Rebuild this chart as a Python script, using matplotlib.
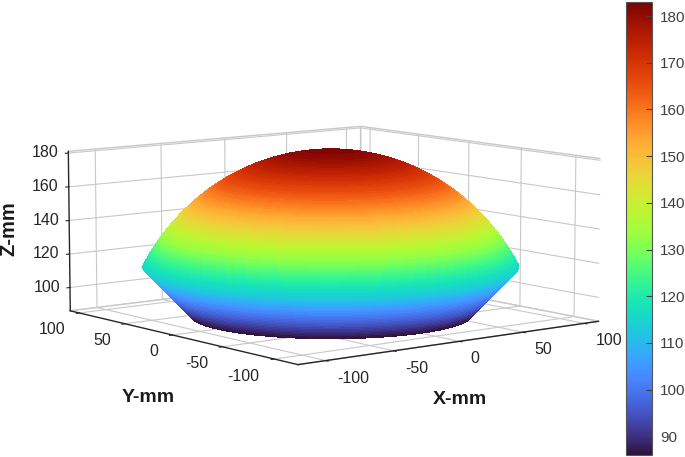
import numpy as np
import matplotlib
matplotlib.use("Agg")
import matplotlib.pyplot as plt
from matplotlib import cm
from matplotlib.colors import Normalize

plt.rcParams["font.family"] = ["Liberation Sans", "DejaVu Sans"]
plt.rcParams["axes.unicode_minus"] = False

# dome profile: radius (mm) at each height (mm)
z_levels = list(range(86, 184))
radii = [87.0, 88.0, 89.0, 90.0, 91.0, 92.0, 93.0, 94.0, 95.0, 96.0,
         97.0, 98.0, 99.0, 100.0, 101.0, 102.0, 103.0, 104.0, 105.0, 106.0,
         107.0, 108.0, 109.0, 110.0, 111.0, 112.0, 113.0, 114.0, 115.0, 116.0,
         115.5, 114.9, 114.3, 113.7, 113.1, 112.5, 111.8, 111.2, 110.5, 109.8,
         109.1, 108.4, 107.7, 107.0, 106.2, 105.5, 104.7, 103.9, 103.1, 102.3,
         101.5, 100.6, 99.7, 98.8, 97.9, 97.0, 96.0, 95.1, 94.1, 93.1,
         92.0, 91.0, 89.9, 88.8, 87.7, 86.5, 85.4, 84.1, 82.9, 81.6,
         80.3, 79.0, 77.6, 76.2, 74.8, 73.3, 71.7, 70.1, 68.5, 66.8,
         65.1, 63.2, 61.4, 59.4, 57.3, 55.2, 53.0, 50.6, 48.1, 45.4,
         42.6, 39.5, 36.1, 32.4, 28.1, 23.0, 16.3, 0.0]

x_ticks = [-100, -50, 0, 50, 100]
y_ticks = [-100, -50, 0, 50, 100]
z_ticks = [100, 120, 140, 160, 180]
cbar_ticks = [90, 100, 110, 120, 130, 140, 150, 160, 170, 180]

# sweep the profile round the vertical axis
theta = np.linspace(0, 2 * np.pi, 361)
rr, tt = np.meshgrid(radii, theta)
zz, _ = np.meshgrid(z_levels, theta)
xx = rr * np.cos(tt)
yy = rr * np.sin(tt)

norm = Normalize(86, 183)
cmap = plt.get_cmap("turbo")

fig = plt.figure(figsize=(6.85, 4.57), dpi=100)
ax = fig.add_axes([0.015, -0.05, 0.92, 1.04], projection="3d")
ax.set_proj_type("persp", focal_length=1.2)
ax.view_init(elev=8.2, azim=-128.3)
ax.patch.set_alpha(0)

ax.plot_surface(xx, yy, zz.astype(float), facecolors=cmap(norm(zz)),
                rstride=1, cstride=1, linewidth=0, antialiased=False, shade=False)

ax.set_xlim(-120, 112, view_margin=0)
ax.set_ylim(-122, 110, view_margin=0)
ax.set_zlim(86, 181, view_margin=0)
ax.set_box_aspect((232, 232, 100), zoom=1.14)

ax.set_xticks(x_ticks)
ax.set_yticks(y_ticks)
ax.set_zticks(z_ticks)
ax.tick_params(axis="both", labelsize=11.5, colors="#262626", pad=0)

for axis in [ax.xaxis, ax.yaxis, ax.zaxis]:
    axis.set_pane_color((1, 1, 1, 1))
    axis.pane.set_edgecolor("#c8c8c8")
    axis.line.set_color("#262626")
    axis.line.set_linewidth(1.0)
    axis._axinfo["grid"].update(color="#c8c8c8", linewidth=0.8)
    axis._axinfo["tick"].update(inward_factor=0.12, outward_factor=0.0)

# nudge tick labels to where the reference has them
for label in ax.get_xticklabels():
    label.set_ha("left")
for label in ax.get_yticklabels():
    label.set_ha("right")
for label in ax.get_zticklabels():
    label.set_va("center")

# axis titles placed by hand, 3d labels land in the wrong spot
fig.text(460 / 685, 1 - 400 / 457, "X-mm", fontsize=14, fontweight="bold",
         ha="center", va="center", color="#1a1a1a")
fig.text(148 / 685, 1 - 398 / 457, "Y-mm", fontsize=14, fontweight="bold",
         ha="center", va="center", color="#1a1a1a")
fig.text(9 / 685, 1 - 229 / 457, "Z-mm", fontsize=14.5, fontweight="bold",
         rotation=90, ha="center", va="center", color="#1a1a1a")

cax = fig.add_axes([626 / 685, 2 / 457, 26 / 685, 453 / 457])
cbar = fig.colorbar(cm.ScalarMappable(norm=norm, cmap=cmap), cax=cax)
cbar.set_ticks(cbar_ticks)
cbar.ax.tick_params(direction="in", length=4, width=0.8, labelsize=11,
                    colors="#404040", pad=6)
cbar.outline.set_edgecolor("#555555")
cbar.outline.set_linewidth(0.8)

fig.savefig("out.png", dpi=100)
plt.close(fig)
